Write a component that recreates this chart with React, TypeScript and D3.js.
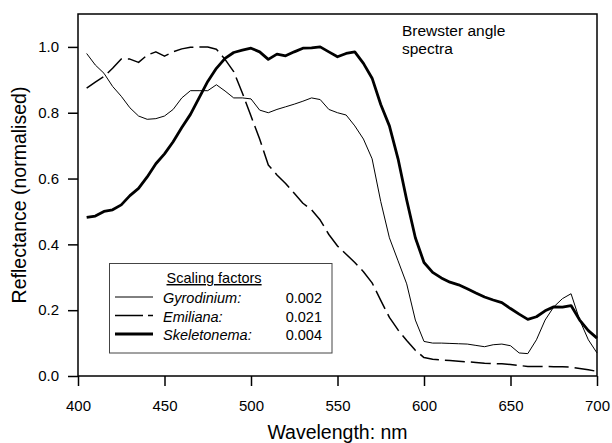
import React, { useEffect, useRef } from 'react';
import * as d3 from 'd3';

const wavelengths = [
  405, 410, 415, 420, 425, 430, 435, 440, 445, 450,
  455, 460, 465, 470, 475, 480, 485, 490, 495, 500,
  505, 510, 515, 520, 525, 530, 535, 540, 545, 550,
  555, 560, 565, 570, 575, 580, 585, 590, 595, 600,
  605, 610, 615, 620, 625, 630, 635, 640, 645, 650,
  655, 660, 665, 670, 675, 680, 685, 690, 695, 700,
];

const gyrodinium = [
  0.98, 0.945, 0.92, 0.88, 0.85, 0.815, 0.79, 0.78, 0.782, 0.79,
  0.81, 0.845, 0.867, 0.867, 0.867, 0.885, 0.866, 0.845, 0.845, 0.842,
  0.808, 0.8, 0.81, 0.818, 0.826, 0.835, 0.845, 0.84, 0.81, 0.8,
  0.793, 0.76, 0.72, 0.66, 0.53, 0.42, 0.35, 0.28, 0.17, 0.105,
  0.1, 0.1, 0.099, 0.098, 0.097, 0.093, 0.089, 0.095, 0.097, 0.092,
  0.07, 0.068, 0.11, 0.17, 0.21, 0.235, 0.25, 0.17, 0.11, 0.07,
];

const emiliana = [
  0.875, 0.893, 0.91, 0.935, 0.963, 0.963, 0.953, 0.975, 0.985, 0.972,
  0.985, 0.994, 0.999, 1.0, 1.0, 0.993, 0.962, 0.925, 0.86, 0.79,
  0.72, 0.641, 0.611, 0.585, 0.555, 0.525, 0.505, 0.474, 0.43, 0.395,
  0.37, 0.345, 0.317, 0.283, 0.23, 0.178, 0.14, 0.108, 0.078, 0.056,
  0.051, 0.049, 0.047, 0.045, 0.043, 0.041, 0.039, 0.038, 0.037, 0.035,
  0.032, 0.029, 0.029, 0.029, 0.028, 0.028, 0.027, 0.023, 0.019, 0.014,
];

const skeletonema = [
  0.482, 0.486, 0.5, 0.505, 0.52, 0.548, 0.57, 0.605, 0.645, 0.675,
  0.712, 0.755, 0.795, 0.845, 0.895, 0.935, 0.965, 0.983, 0.99, 0.996,
  0.985, 0.962, 0.978, 0.973, 0.985, 0.996, 0.997, 1.0, 0.985, 0.97,
  0.98, 0.985, 0.95, 0.905, 0.825, 0.76, 0.66, 0.535, 0.42, 0.345,
  0.315, 0.298, 0.285, 0.277, 0.265, 0.252, 0.24, 0.231, 0.223, 0.205,
  0.188, 0.172, 0.18, 0.198, 0.21, 0.209, 0.214, 0.17, 0.138, 0.115,
];

const xTicks = [400, 450, 500, 550, 600, 650, 700];
const yTicks = [0, 0.2, 0.4, 0.6, 0.8, 1.0];

const species = ['Gyrodinium:', 'Emiliana:', 'Skeletonema:'];
const scalingFactors = ['0.002', '0.021', '0.004'];

const FONT = '"Liberation Sans", Arial, Helvetica, sans-serif';

export default function App() {
  const svgRef = useRef<SVGSVGElement>(null);

  useEffect(() => {
    if (!svgRef.current) return;
    const svg = d3.select(svgRef.current);
    svg.selectAll('*').remove();

    const left = 78, right = 597, top = 14, bottom = 376;

    const x = d3.scaleLinear().domain([400, 700]).range([left, right]);
    const y = d3.scaleLinear().domain([0, 1.1]).range([bottom, top]);

    const styles = [
      { data: gyrodinium, width: 1, dash: null as string | null },
      { data: emiliana, width: 1.5, dash: '20,6' },
      { data: skeletonema, width: 2.8, dash: null as string | null },
    ];

    const line = d3.line<number>()
      .x((_, i) => x(wavelengths[i]))
      .y(d => y(d));

    styles.forEach(s => {
      svg.append('path')
        .datum(s.data)
        .attr('d', line)
        .attr('fill', 'none')
        .attr('stroke', '#000')
        .attr('stroke-width', s.width)
        .attr('stroke-linejoin', 'round')
        .attr('stroke-dasharray', s.dash);
    });

    // frame
    svg.append('rect')
      .attr('x', left)
      .attr('y', top)
      .attr('width', right - left)
      .attr('height', bottom - top)
      .attr('fill', 'none')
      .attr('stroke', '#000')
      .attr('stroke-width', 1.5);

    // Axes
    const xAxis = svg.append('g')
      .attr('transform', `translate(0,${bottom})`)
      .call(d3.axisBottom(x).tickValues(xTicks).tickSize(10).tickPadding(14).tickFormat(d3.format('d')));
    xAxis.select('.domain').remove();
    xAxis.selectAll('line').attr('stroke-width', 1.5);
    xAxis.selectAll('text')
      .style('font-family', FONT)
      .style('font-size', '15px')
      .attr('fill', '#000');

    const yAxis = svg.append('g')
      .attr('transform', `translate(${left},0)`)
      .call(d3.axisLeft(y).tickValues(yTicks).tickSize(10).tickPadding(9).tickFormat(d3.format('.1f')));
    yAxis.select('.domain').remove();
    yAxis.selectAll('line').attr('stroke-width', 1.5);
    yAxis.selectAll('text')
      .style('font-family', FONT)
      .style('font-size', '15px')
      .attr('fill', '#000');

    // Titles
    svg.append('text')
      .attr('x', (left + right) / 2)
      .attr('y', 439)
      .attr('text-anchor', 'middle')
      .style('font-family', FONT)
      .style('font-size', '19.5px')
      .text('Wavelength: nm');

    svg.append('text')
      .attr('transform', `translate(26,${(top + bottom) / 2}) rotate(-90)`)
      .attr('text-anchor', 'middle')
      .style('font-family', FONT)
      .style('font-size', '19.5px')
      .text('Reflectance (normalised)');

    const note = svg.append('text')
      .style('font-family', FONT)
      .style('font-size', '15.5px');
    note.append('tspan').attr('x', 402).attr('y', 36).text('Brewster angle');
    note.append('tspan').attr('x', 402).attr('y', 54).text('spectra');

    // Legend
    const lg = svg.append('g');
    lg.append('rect')
      .attr('x', 109.5)
      .attr('y', 263.5)
      .attr('width', 222.5)
      .attr('height', 89.5)
      .attr('fill', '#fff')
      .attr('stroke', '#444')
      .attr('stroke-width', 1);

    lg.append('text')
      .attr('x', 166.5)
      .attr('y', 283)
      .style('font-family', FONT)
      .style('font-size', '14.5px')
      .style('text-decoration', 'underline')
      .text('Scaling factors');

    const rowY = [303, 321.5, 340];
    const sampleDash = [null, '28,5,5,100', null];
    species.forEach((name, i) => {
      lg.append('line')
        .attr('x1', 115)
        .attr('x2', 153)
        .attr('y1', rowY[i] - 6)
        .attr('y2', rowY[i] - 6)
        .attr('stroke', '#000')
        .attr('stroke-width', styles[i].width)
        .attr('stroke-dasharray', sampleDash[i]);
      lg.append('text')
        .attr('x', 163)
        .attr('y', rowY[i])
        .style('font-family', FONT)
        .style('font-size', '14.5px')
        .style('font-style', 'italic')
        .text(name);
      lg.append('text')
        .attr('x', 322)
        .attr('y', rowY[i])
        .attr('text-anchor', 'end')
        .style('font-family', FONT)
        .style('font-size', '14.5px')
        .text(scalingFactors[i]);
    });
  }, []);

  return (
    <svg
      ref={svgRef}
      width={612}
      height={443}
      style={{ position: 'absolute', left: 0, top: 0, background: '#fff' }}
    />
  );
}
